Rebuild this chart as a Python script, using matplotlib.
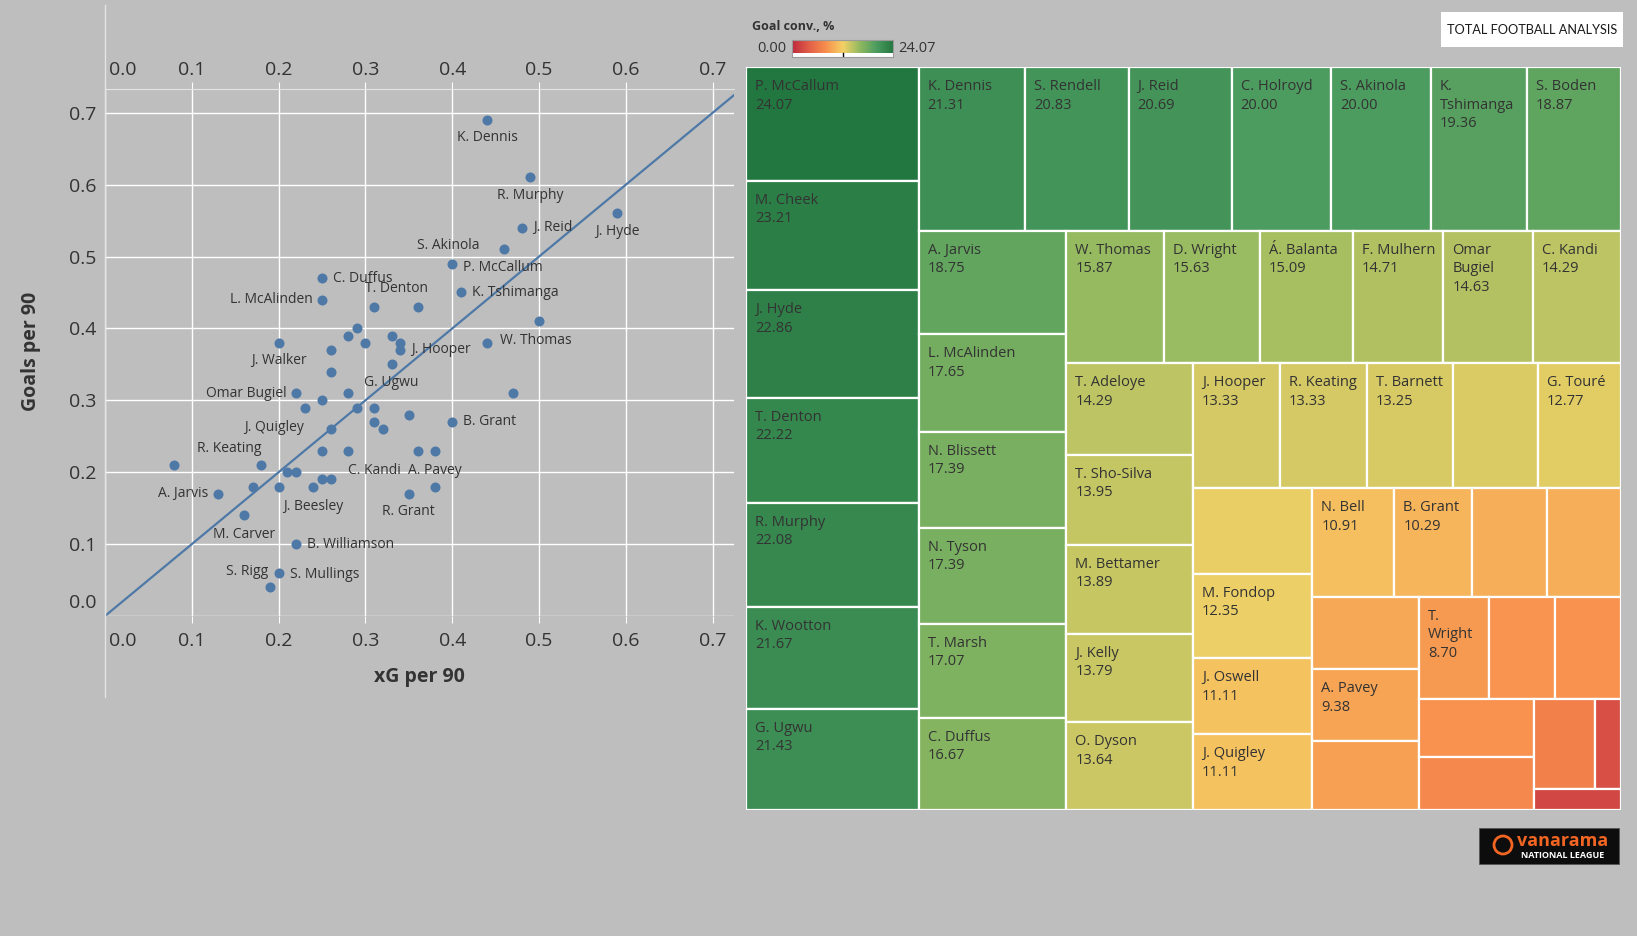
import numpy as np
import matplotlib
matplotlib.use('Agg')
import matplotlib.pyplot as plt
from matplotlib.colors import LinearSegmentedColormap
from matplotlib.patches import Rectangle, Ellipse
from matplotlib.lines import Line2D
from matplotlib.transforms import ScaledTranslation

plt.rcParams['font.family'] = ['Open Sans', 'DejaVu Sans']

# scatter: xG per 90 vs goals per 90
xg = [0.44, 0.49, 0.48, 0.59, 0.46, 0.40, 0.25, 0.25, 0.31, 0.36, 0.41, 0.50, 0.44, 0.29,
      0.28, 0.33, 0.34, 0.30, 0.20, 0.26, 0.34, 0.33, 0.26, 0.22, 0.28, 0.25, 0.23, 0.29,
      0.31, 0.35, 0.40, 0.31, 0.32, 0.26, 0.25, 0.28, 0.36, 0.38, 0.08, 0.18, 0.21, 0.22,
      0.25, 0.26, 0.17, 0.20, 0.24, 0.38, 0.13, 0.35, 0.16, 0.22, 0.20, 0.19, 0.47]
goals = [0.69, 0.61, 0.54, 0.56, 0.51, 0.49, 0.47, 0.44, 0.43, 0.43, 0.45, 0.41, 0.38, 0.40,
         0.39, 0.39, 0.38, 0.38, 0.38, 0.37, 0.37, 0.35, 0.34, 0.31, 0.31, 0.30, 0.29, 0.29,
         0.29, 0.28, 0.27, 0.27, 0.26, 0.26, 0.23, 0.23, 0.23, 0.23, 0.21, 0.21, 0.20, 0.20,
         0.19, 0.19, 0.18, 0.18, 0.18, 0.18, 0.17, 0.17, 0.14, 0.10, 0.06, 0.04, 0.31]
players = ['K. Dennis', 'R. Murphy', 'J. Reid', 'J. Hyde', 'S. Akinola', 'P. McCallum',
           'C. Duffus', 'L. McAlinden', 'T. Denton', '', 'K. Tshimanga', '', 'W. Thomas',
           '', '', '', '', '', 'J. Walker', '', 'J. Hooper', 'G. Ugwu', '', 'Omar Bugiel',
           '', '', '', '', '', '', 'B. Grant', '', '', 'J. Quigley', '', 'C. Kandi', '',
           'A. Pavey', '', 'R. Keating', '', '', '', '', '', '', 'J. Beesley', '', 'A. Jarvis',
           'R. Grant', 'M. Carver', 'B. Williamson', 'S. Mullings', 'S. Rigg', '']
axis_ticks = [0.0, 0.1, 0.2, 0.3, 0.4, 0.5, 0.6, 0.7]

# treemap: goal conversion, %
tm_names = ['P. McCallum', 'M. Cheek', 'J. Hyde', 'T. Denton', 'R. Murphy', 'K. Wootton',
            'G. Ugwu', 'K. Dennis', 'S. Rendell', 'J. Reid', 'C. Holroyd', 'S. Akinola',
            'K. Tshimanga', 'S. Boden', 'A. Jarvis', 'L. McAlinden', 'N. Blissett',
            'N. Tyson', 'T. Marsh', 'C. Duffus', 'W. Thomas', 'D. Wright', 'Á. Balanta',
            'F. Mulhern', 'Omar Bugiel', 'C. Kandi', 'T. Adeloye', 'T. Sho-Silva',
            'M. Bettamer', 'J. Kelly', 'O. Dyson', 'J. Hooper', 'R. Keating', 'T. Barnett',
            '', 'G. Touré', '', 'M. Fondop', 'J. Oswell', 'J. Quigley', 'N. Bell',
            'B. Grant', '', '', '', 'A. Pavey', '', 'T. Wright', '', '', '', '', '', '', '']
tm_conv = [24.07, 23.21, 22.86, 22.22, 22.08, 21.67, 21.43, 21.31, 20.83, 20.69, 20.00,
           20.00, 19.36, 18.87, 18.75, 17.65, 17.39, 17.39, 17.07, 16.67, 15.87, 15.63,
           15.09, 14.71, 14.63, 14.29, 14.29, 13.95, 13.89, 13.79, 13.64, 13.33, 13.33,
           13.25, 13.05, 12.77, 12.50, 12.35, 11.11, 11.11, 10.91, 10.29, 9.95, 9.90,
           9.50, 9.38, 9.10, 8.70, 8.33, 8.24, 8.20, 7.50, 6.83, 2.85, 2.24]

# label placement for the scatter (offset in points, alignment)
label_style = {
    'K. Dennis': (0, -13, 'center'), 'R. Murphy': (0, -13, 'center'),
    'J. Reid': (8, 0, 'left'), 'J. Hyde': (0, -13, 'center'),
    'S. Akinola': (-18, 3, 'right'), 'P. McCallum': (8, -3, 'left'),
    'C. Duffus': (8, 0, 'left'), 'L. McAlinden': (-7, 0, 'right'),
    'T. Denton': (16, 13, 'center'), 'K. Tshimanga': (8, 0, 'left'),
    'W. Thomas': (9, 2, 'left'), 'J. Walker': (0, -13, 'center'),
    'J. Hooper': (8, 0, 'left'), 'G. Ugwu': (0, -13, 'center'),
    'Omar Bugiel': (-7, 0, 'right'), 'B. Grant': (8, 0, 'left'),
    'J. Quigley': (-19, 1, 'right'), 'C. Kandi': (0, -14, 'left'),
    'A. Pavey': (0, -14, 'center'), 'R. Keating': (-23, 12, 'center'),
    'J. Beesley': (0, -14, 'center'), 'A. Jarvis': (-7, 0, 'right'),
    'R. Grant': (0, -13, 'center'), 'M. Carver': (0, -14, 'center'),
    'B. Williamson': (8, 0, 'left'), 'S. Mullings': (8, -1, 'left'),
    'S. Rigg': (-1, 11, 'right'),
}

BG = '#bebebe'
BLUE = '#4e79a7'
TXT = '#333333'
W, H = 1637, 936

cmap = LinearSegmentedColormap.from_list(
    'rgg', ['#be2a3e', '#e25f48', '#f88f4d', '#f4d166', '#90b960', '#4b9b5f', '#22763f'])
vmax = max(tm_conv)


def fig_box(x0, y0, x1, y1):
    # pixel box (top-left origin) -> figure fraction rect
    return [x0 / W, 1 - y1 / H, (x1 - x0) / W, (y1 - y0) / H]


def squarify(vals, x, y, w, h, k=1.62):
    # greedy squarified layout, strips along the shorter side;
    # k is the preferred thickness/length ratio of a cell
    rects = []
    scale = w * h / sum(vals)
    i = 0
    while i < len(vals):
        side = min(w, h)

        def worst(row):
            s = sum(row)
            t = s * scale / side
            rr = [(t / (side * v / s)) / k for v in row]
            return max(max(q, 1 / q) for q in rr)

        row = [vals[i]]
        j = i + 1
        while j < len(vals) and worst(row + [vals[j]]) <= worst(row):
            row.append(vals[j])
            j += 1
        s = sum(row)
        t = s * scale / side
        if w >= h:
            yy = y
            for v in row:
                hh = h * v / s
                rects.append((x, yy, t, hh))
                yy += hh
            x += t
            w -= t
        else:
            xx = x
            for v in row:
                ww = w * v / s
                rects.append((xx, y, ww, t))
                xx += ww
            y += t
            h -= t
        i = j
    return rects


fig = plt.figure(figsize=(W / 100, H / 100), dpi=100, facecolor=BG)

# ---------------- scatter ----------------
ax = fig.add_axes(fig_box(105, 89, 734, 616))
ax.set_facecolor(BG)
ax.set_xlim(0, 0.7245)
ax.set_ylim(0, 0.733)
ax.set_xticks(axis_ticks)
ax.set_yticks(axis_ticks)
ax.set_xticklabels([f'{t:.1f}' for t in axis_ticks])
ax.set_yticklabels([f'{t:.1f}' for t in axis_ticks])
ax.grid(True, color='white', lw=1)
ax.set_axisbelow(True)
for sp in ['right', 'bottom']:
    ax.spines[sp].set_visible(False)
for sp in ['top', 'left']:
    ax.spines[sp].set_color('#e4e4e4')
ax.tick_params(axis='x', top=True, labeltop=True, bottom=True, labelbottom=True,
               length=5, color='white', pad=2, labelsize=14, labelcolor=TXT)
ax.tick_params(axis='y', length=0, pad=6, labelsize=14, labelcolor=TXT)

xt = ax.xaxis.get_major_ticks()
yt = ax.yaxis.get_major_ticks()
down = ScaledTranslation(0, -4.5 / 72, fig.dpi_scale_trans)
for t in xt:
    t.label1.set_transform(t.label1.get_transform() + down)
nudge = ScaledTranslation(3 / 72, 0, fig.dpi_scale_trans)
xt[0].label1.set_ha('left')
xt[0].label2.set_ha('left')
xt[0].label1.set_transform(xt[0].label1.get_transform() + nudge)
xt[0].label2.set_transform(xt[0].label2.get_transform() + nudge)
yt[0].label1.set_va('bottom')
yt[0].label1.set_transform(yt[0].label1.get_transform()
                           + ScaledTranslation(0, 3 / 72, fig.dpi_scale_trans))

lim = np.array([0, 0.7245])
ax.plot(lim, lim, color=BLUE, lw=1.6, zorder=2, clip_on=True)
ax.scatter(xg, goals, s=52, color=BLUE, zorder=3, linewidths=0)
for x, y, n in zip(xg, goals, players):
    if not n:
        continue
    dx, dy, ha = label_style[n]
    ax.annotate(n, (x, y), xytext=(dx, dy), textcoords='offset points',
                ha=ha, va='center', fontsize=10, color=TXT, zorder=4)

fig.text(419 / W, 1 - 677 / H, 'xG per 90', ha='center', va='center',
         fontsize=14, fontweight='bold', color=TXT)
fig.text(31 / W, 1 - 351 / H, 'Goals per 90', ha='center', va='center',
         rotation=90, fontsize=14, fontweight='bold', color=TXT)
fig.add_artist(Line2D([105 / W, 105 / W], [1 - 5 / H, 1 - 697 / H],
                      transform=fig.transFigure, color='#e4e4e4', lw=1))

# ---------------- treemap ----------------
TX0, TY0, TX1, TY1 = 746, 67, 1621, 810
tw, th = TX1 - TX0, TY1 - TY0
tax = fig.add_axes(fig_box(TX0, TY0, TX1, TY1))
tax.set_xlim(0, tw)
tax.set_ylim(th, 0)
tax.axis('off')
rects = squarify(tm_conv, 0, 0, tw, th)
renderer = fig.canvas.get_renderer()
for (x, y, w, h), n, v in zip(rects, tm_names, tm_conv):
    tax.add_patch(Rectangle((x, y), w, h, facecolor=cmap(v / vmax),
                            edgecolor='white', lw=1.6))
    if not n:
        continue
    t = tax.text(x + 9, y + 12, f'{n}\n{v:.2f}', ha='left', va='top', fontsize=10.5,
                 color=TXT, linespacing=1.32)
    if t.get_window_extent(renderer).width > w - 12:
        t.set_text(n.replace(' ', '\n', 1) + f'\n{v:.2f}')

# colour legend
fig.text(752 / W, 1 - 27 / H, 'Goal conv., %', ha='left', va='center',
         fontsize=9, fontweight='bold', color=TXT)
lax = fig.add_axes(fig_box(792, 40, 893, 57))
grad = np.linspace(0, vmax, 256).reshape(1, -1)
lax.imshow(grad, cmap=cmap, vmin=0, vmax=vmax, aspect='auto',
           extent=(0, vmax, 0, 1))
lax.set_xticks([])
lax.set_yticks([])
for sp in lax.spines.values():
    sp.set_color('#9a9a9a')
    sp.set_linewidth(0.8)
lax.plot([vmax / 2, vmax / 2], [0, -0.2], color='black', lw=1, clip_on=False)
fig.text(786 / W, 1 - 49 / H, f'{0:.2f}', ha='right', va='center', fontsize=10.5, color=TXT)
fig.text(898 / W, 1 - 49 / H, f'{vmax:.2f}', ha='left', va='center', fontsize=10.5, color=TXT)

# Total Football Analysis badge
fig.patches.append(Rectangle((1441 / W, 1 - 47 / H), 182 / W, 35 / H, transform=fig.transFigure,
                             facecolor='white', edgecolor='none'))
fig.text(1532 / W, 1 - 29.5 / H, 'TOTAL FOOTBALL ANALYSIS', ha='center', va='center',
         fontsize=9.2, color='#1a1a1a', family=['Lato', 'DejaVu Sans'])

# Vanarama National League badge
fig.patches.append(Rectangle((1479 / W, 1 - 864 / H), 140 / W, 36 / H, transform=fig.transFigure,
                             facecolor='#0d0d0d', edgecolor='#555555', lw=0.6))
fig.patches.append(Ellipse((1503 / W, 1 - 845 / H), 18 / W, 18 / H, transform=fig.transFigure,
                           facecolor='none', edgecolor='#f26522', lw=2))
fig.text(1563 / W, 1 - 841 / H, 'vanarama', ha='center', va='center', fontsize=13,
         fontweight='bold', color='#f26522')
fig.text(1563 / W, 1 - 855 / H, 'NATIONAL LEAGUE', ha='center', va='center', fontsize=6.5,
         fontweight='bold', color='white')

fig.savefig('out.png', dpi=100, facecolor=BG)
